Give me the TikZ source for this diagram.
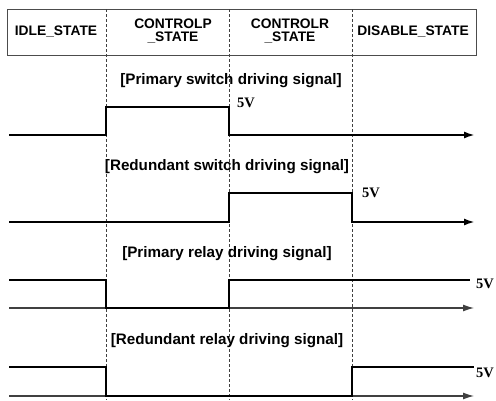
\documentclass[tikz,border=0pt]{standalone}
\usepackage{fontspec}
\setmainfont{Liberation Sans}
\newfontfamily\voltfont{Liberation Serif}
\usetikzlibrary{arrows.meta,positioning,calc}

\begin{document}
\begin{tikzpicture}[
  x=1pt, y=-1pt,
  hdr/.style={align=center, inner sep=0pt, font=\fontsize{13.8}{12.5}\selectfont\bfseries},
  title/.style={inner sep=0pt, font=\fontsize{15.2}{16}\selectfont\bfseries},
  volt/.style={inner sep=0pt, anchor=west, font=\voltfont\fontsize{14.5}{14}\selectfont\bfseries},
  guide/.style={dashed, dash pattern=on 3pt off 2pt, line width=0.6pt, black!75},
  sig/.style={line width=2pt},
  axis/.style={line width=1.2pt, black!75, -{Latex[length=11pt,width=7pt]}},
  sigarr/.style={line width=2pt, -{Latex[length=11pt,width=7pt]}}
]
  \useasboundingbox (0,0) rectangle (496,400);

  % state header and the state boundaries
  \draw[line width=0.8pt, black!70] (7,9) rectangle (476,55);
  \foreach \x in {106,229,352}
    \draw[guide] (\x,9) -- (\x,400);
  \node[hdr] (idle) at (56,32) {IDLE\_STATE};
  \node[hdr] (ctrlp) at (173,31) {CONTROLP\\\_STATE};
  \node[hdr] (ctrlr) at (290,31) {CONTROLR\\\_STATE};
  \node[hdr] (disable) at (413,32) {DISABLE\_STATE};

  % primary switch
  \node[title] (pswitch) at (231,81) {[Primary switch driving signal]};
  \draw[sigarr] (9,135) -| (106,107) -| (229,135) -- (475,135);
  \node[volt] (v1) at (237,103) {5V};

  % redundant switch
  \node[title] (rswitch) at (227,167) {[Redundant switch driving signal]};
  \draw[sigarr] (9,222) -| (229,193) -| (352,222) -- (475,222);
  \node[volt] (v2) at (362,193) {5V};

  % primary relay
  \node[title] (prelay) at (227,254) {[Primary relay driving signal]};
  \draw[axis] (9,308) -- (474,308);
  \draw[sig] (9,280) -| (106,308) -| (229,280) -- (470,280);
  \node[volt] (v3) at (476,284) {5V};

  % redundant relay
  \node[title] (rrelay) at (227,341) {[Redundant relay driving signal]};
  \draw[axis] (9,396) -- (474,396);
  \draw[sig] (9,367) -| (106,396) -- (352,396) |- (474,367);
  \node[volt] (v4) at (476,373) {5V};
\end{tikzpicture}
\end{document}
